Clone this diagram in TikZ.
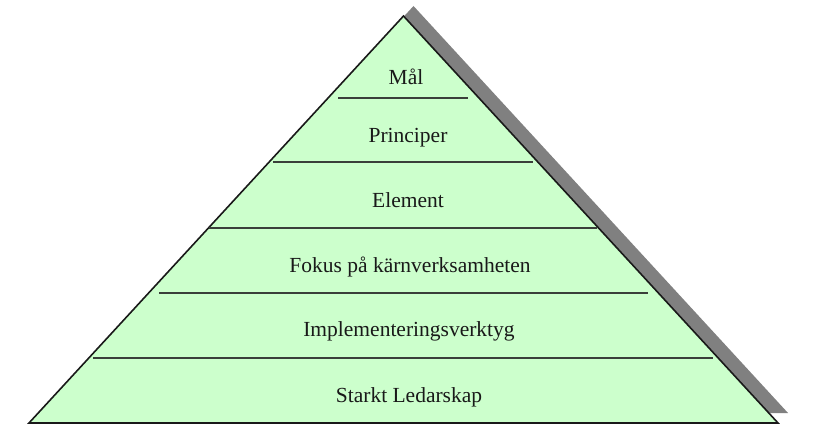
\documentclass[tikz,border=0pt]{standalone}
\usepackage{fontspec}
\setmainfont{Liberation Serif}
\definecolor{pyrgreen}{HTML}{CCFFCC}
\definecolor{shadowgray}{HTML}{808080}
\definecolor{sepline}{HTML}{3A3F3A}
\begin{document}
\begin{tikzpicture}[x=1pt,y=-1pt,
  level/.style={anchor=base,font=\fontsize{21.5pt}{24pt}\selectfont,text=black!90,inner sep=0pt},
  sep/.style={draw=sepline,line width=1.8pt}]
\useasboundingbox (0,0) rectangle (813,435);
% shadow
\fill[shadowgray] (413.5,6) -- (788,413) -- (39,413) -- cycle;
% pyramid
\filldraw[fill=pyrgreen,draw=black!90,line width=1.6pt,line join=miter] (403.5,16) -- (778,423) -- (29,423) -- cycle;
% separators
\draw[sep] (338,98) -- (468,98);
\draw[sep] (273,162) -- (533,162);
\draw[sep] (209,228) -- (597,228);
\draw[sep] (159,293) -- (648,293);
\draw[sep] (93,358) -- (713,358);
% labels
\node[level] (mal) at (406,85) {Mål};
\node[level] (princ) at (408,143) {Principer};
\node[level] (elem) at (408,208) {Element};
\node[level] (fokus) at (410,273) {Fokus på kärnverksamheten};
\node[level] (impl) at (409,336) {Implementeringsverktyg};
\node[level] (lead) at (409,402) {Starkt Ledarskap};
\end{tikzpicture}
\end{document}
